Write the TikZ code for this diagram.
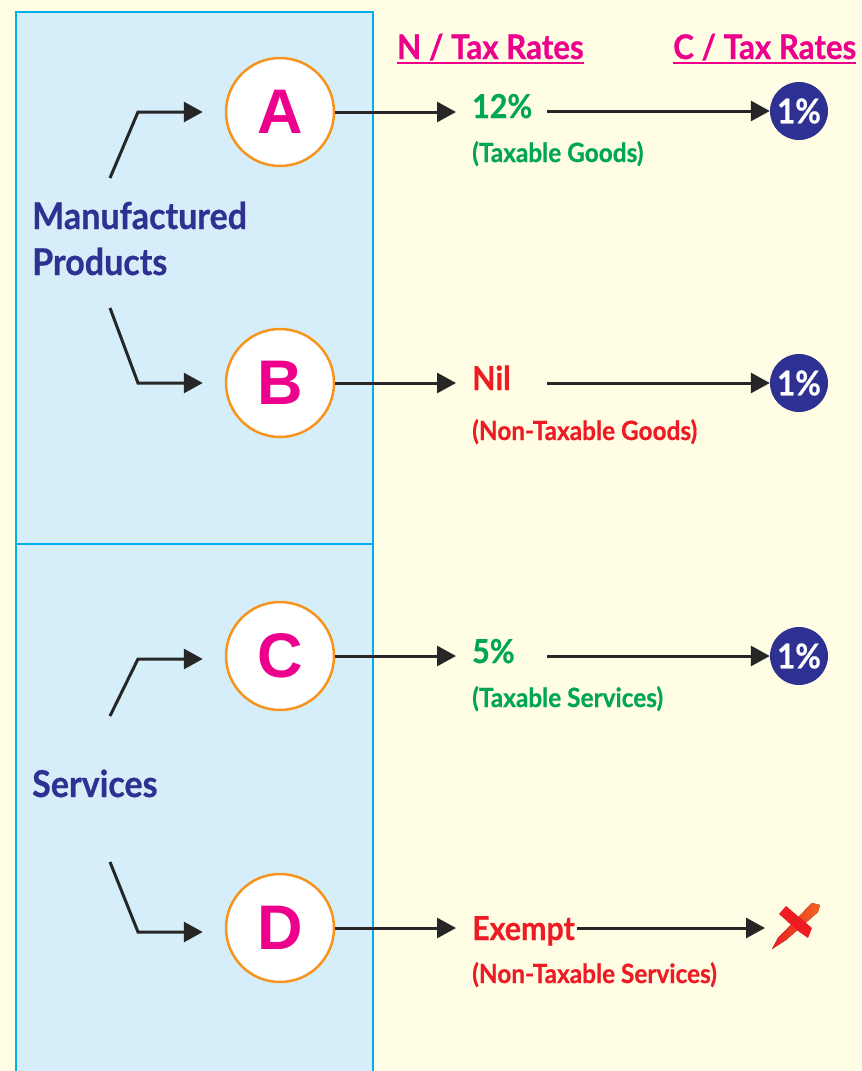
\documentclass[tikz,border=0pt]{standalone}
\usepackage{fontspec}
\setmainfont{Lato}[UprightFont=* Bold, FakeStretch=0.92, FakeBold=0.6]
\newfontfamily\letterfont{Liberation Sans}[UprightFont=* Bold]
\usetikzlibrary{arrows.meta}
\definecolor{bgyellow}{HTML}{FFFDE3}
\definecolor{panelblue}{HTML}{D6EEFA}
\definecolor{cyanline}{HTML}{00AEEF}
\definecolor{magentac}{HTML}{EC008C}
\definecolor{orangec}{HTML}{F7941D}
\definecolor{navyc}{HTML}{2E3192}
\definecolor{greenc}{HTML}{00A651}
\definecolor{redc}{HTML}{ED1C24}
\definecolor{orangered}{HTML}{F26522}
\tikzset{
  letternode/.style={circle, draw=orangec, line width=2.5pt, fill=white, minimum size=108pt, inner sep=0pt, text=magentac, font=\letterfont\fontsize{63}{63}\selectfont},
  ratecircle/.style={circle, fill=navyc, minimum size=58pt, inner sep=0pt, text=white, font=\fontsize{34}{34}\selectfont},
  arr/.style={line width=3pt, draw=black!85, -{Triangle[length=19pt,width=20pt]}},
  header/.style={anchor=base west, text=magentac, inner sep=0pt, font=\fontsize{34}{34}\selectfont},
  rate/.style={anchor=base west, inner sep=0pt, font=\fontsize{33}{33}\selectfont},
  subrate/.style={anchor=base west, inner sep=0pt, font=\fontsize{26.5}{26.5}\selectfont},
  category/.style={anchor=base west, inner sep=0pt, text=navyc, font=\fontsize{37}{37}\selectfont},
}
\begin{document}
\begin{tikzpicture}[x=1pt,y=-1pt]
\useasboundingbox (0,0) rectangle (862,1071);
\fill[bgyellow] (0,0) rectangle (862,1071);
% panel
\fill[panelblue] (16,12) rectangle (373,1075);
\draw[cyanline, line width=2pt] (16,1075) -- (16,12) -- (373,12) -- (373,1075);
\draw[cyanline, line width=2.5pt] (16,544) -- (373,544);
% headers
\node[header] (hN) at (397,59) {N / Tax Rates};
\node[header] (hC) at (673,59) {C / Tax Rates};
\draw[magentac, line width=2pt] ([yshift=-4pt]hN.base west) -- ([yshift=-4pt]hN.base east);
\draw[magentac, line width=2pt] ([yshift=-4pt]hC.base west) -- ([yshift=-4pt]hC.base east);
% categories
\node[category] (mp1) at (32,229) {Manufactured};
\node[category] (mp2) at (32,275) {Products};
\node[category] (sv) at (32,797) {Services};
% letters
\node[letternode] (A) at (280,112) {A};
\node[letternode] (B) at (280,383) {B};
\node[letternode] (C) at (280,656) {C};
\node[letternode] (D) at (280,928) {D};
% bends
\coordinate (a0) at (110,178); \coordinate (a1) at (138,112);
\coordinate (b0) at (110,308); \coordinate (b1) at (138,383);
\coordinate (c0) at (110,716); \coordinate (c1) at (138,659);
\coordinate (d0) at (110,862); \coordinate (d1) at (138,932);
\draw[arr] (a0) -- (a1) -- ([xshift=-22pt]a1 -| A.west);
\draw[arr] (b0) -- (b1) -- ([xshift=-22pt]b1 -| B.west);
\draw[arr] (c0) -- (c1) -- ([xshift=-22pt]c1 -| C.west);
\draw[arr] (d0) -- (d1) -- ([xshift=-22pt]d1 -| D.west);
% rates
\node[rate, text=greenc] (r1) at (472,118) {12\%};
\node[subrate, text=greenc] (s1) at (472,162) {(Taxable Goods)};
\node[rate, text=redc] (r2) at (472,390) {Nil};
\node[subrate, text=redc] (s2) at (472,440) {(Non-Taxable Goods)};
\node[rate, text=greenc] (r3) at (472,663) {5\%};
\node[subrate, text=greenc] (s3) at (472,707) {(Taxable Services)};
\node[rate, text=redc] (r4) at (472,940) {Exempt};
\node[subrate, text=redc] (s4) at (472,983) {(Non-Taxable Services)};
\coordinate (t1) at (456,112); \coordinate (t2) at (456,383);
\coordinate (t3) at (456,656); \coordinate (t4) at (456,928);
\draw[arr] (A.east) -- (t1);
\draw[arr] (B.east) -- (t2);
\draw[arr] (C.east) -- (t3);
\draw[arr] (D.east) -- (t4);
% C rates
\node[ratecircle] (k1) at (799,111) {1\%};
\node[ratecircle] (k2) at (799,383) {1\%};
\node[ratecircle] (k3) at (799,656) {1\%};
\coordinate (x4) at (795,928);
\coordinate (u1) at (547,111); \coordinate (u2) at (547,383);
\coordinate (u3) at (547,656);
\draw[arr] (u1) -- (k1.west);
\draw[arr] (u2) -- (k2.west);
\draw[arr] (u3) -- (k3.west);
\draw[arr] ([xshift=2pt]r4.east |- x4) -- ([xshift=-30pt]x4);
% red cross (brush strokes)
\fill[left color=redc, right color=orangered] (772,949) -- (778,938) -- (812,903) -- (820,905) -- (818,912) -- (786,940) -- cycle;
\fill[redc] (779,914) -- (786,906) -- (812,928) -- (808,938) -- (798,931) -- cycle;
\end{tikzpicture}
\end{document}
